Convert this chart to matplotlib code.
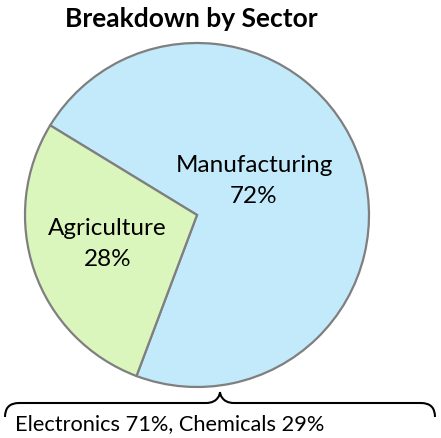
import matplotlib
matplotlib.use("Agg")
import matplotlib.pyplot as plt
from matplotlib.path import Path
from matplotlib.patches import PathPatch

sectors = ["Manufacturing", "Agriculture"]
shares = [72, 28]
colors = ["#c2eafa", "#daf6bd"]
sub_names = ["Electronics", "Chemicals"]
sub_shares = [71, 29]

W, H = 441, 439
fig = plt.figure(figsize=(W / 100, H / 100), dpi=100)
ax = fig.add_axes([0, 0, 1, 1])

plt.rcParams["font.family"] = ["Lato", "DejaVu Sans"]

wedges, _ = ax.pie(shares, colors=colors, startangle=249.4, counterclock=True,
                   center=(197, 223), radius=172,
                   wedgeprops=dict(edgecolor="#7f7f7f", linewidth=1.6))
ax.set_xlim(0, W); ax.set_ylim(0, H)
ax.set_aspect("equal")
ax.axis("off")

# labels inside slices (x centre, baseline of name line in image px)
label_pos = [(254, 172), (107.5, 235)]
for name, val, (x, yb) in zip(sectors, shares, label_pos):
    ax.text(x, H - yb, name, ha="center", va="baseline", fontsize=17.5)
    ax.text(x, H - yb - 31, f"{val}%", ha="center", va="baseline", fontsize=17.5)

ax.text(191, H - 27, "Breakdown by Sector", ha="center", va="baseline",
        fontsize=19, fontweight="bold")

# curly brace under the pie
y0, y1, ytip = H - 418, H - 404, H - 393
xl, xr, xm = 5, 435, 220
verts = [(xl, y0), (xl, y1), (xl + 14, y1), (xm - 14, y1),
         (xm - 2, y1), (xm, ytip - 2), (xm, ytip),
         (xm, ytip - 2), (xm + 2, y1), (xm + 14, y1),
         (xr - 14, y1), (xr, y1), (xr, y0)]
codes = [Path.MOVETO, Path.CURVE3, Path.CURVE3, Path.LINETO,
         Path.CURVE4, Path.CURVE4, Path.CURVE4,
         Path.CURVE4, Path.CURVE4, Path.CURVE4,
         Path.LINETO, Path.CURVE3, Path.CURVE3]
ax.add_patch(PathPatch(Path(verts, codes), facecolor="none",
                       edgecolor="black", lw=1.5))

sub_text = ", ".join(f"{n} {v}%" for n, v in zip(sub_names, sub_shares))
ax.text(15, H - 430, sub_text, ha="left", va="baseline", fontsize=15.7)

fig.savefig("out.png", dpi=100, facecolor="white")
